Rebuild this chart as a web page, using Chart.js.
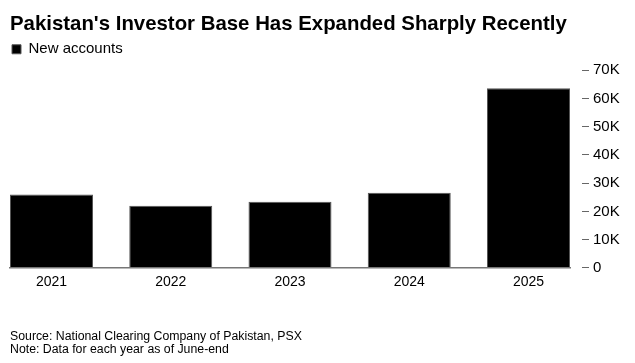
<!DOCTYPE html>
<html>
<head>
<meta charset="utf-8">
<script src="https://cdn.jsdelivr.net/npm/chart.js@4/dist/chart.umd.min.js"></script>
<style>
  html, body { margin: 0; padding: 0; background: #fff; }
  #wrap { width: 635px; height: 363px; }
</style>
</head>
<body>
<div id="wrap"><canvas id="c" width="635" height="363"></canvas></div>
<script>
const categories = ['2021', '2022', '2023', '2024', '2025'];
const newAccounts = [26000, 22000, 23400, 26600, 63600];
const yTickValues = [0, 10000, 20000, 30000, 40000, 50000, 60000, 70000];
const yTickLabels = ['0', '10K', '20K', '30K', '40K', '50K', '60K', '70K'];
const titleText = "Pakistan's Investor Base Has Expanded Sharply Recently";
const seriesName = 'New accounts';
const footnotes = ['Source: National Clearing Company of Pakistan, PSX', 'Note: Data for each year as of June-end'];

const FONT = '"Liberation Sans", Arial, Helvetica, sans-serif';
Chart.defaults.font.family = FONT;
Chart.defaults.color = '#000';

new Chart(document.getElementById('c'), {
  type: 'bar',
  data: {
    datasets: [{
      label: seriesName,
      data: newAccounts.map((v, i) => ({ x: i, y: v })),
      backgroundColor: '#000',
      borderColor: '#555',
      borderWidth: 1,
      categoryPercentage: 1,
      barPercentage: 0.696
    }]
  },
  options: {
    responsive: false,
    animation: false,
    devicePixelRatio: 1,
    layout: { padding: { left: 10, right: 0, top: 0, bottom: 0 } },
    plugins: {
      title: {
        display: true,
        text: titleText,
        align: 'start',
        color: '#000',
        font: { size: 20.4, weight: 'bold', family: FONT },
        padding: { top: 12, bottom: 3.3 }
      },
      legend: {
        display: true,
        position: 'top',
        align: 'start',
        labels: {
          boxWidth: 9,
          boxHeight: 9,
          padding: 2,
          color: '#000',
          font: { size: 15, family: FONT }
        }
      },
      subtitle: {
        display: true,
        position: 'bottom',
        align: 'start',
        text: footnotes,
        color: '#000',
        font: { size: 12.3, family: FONT, lineHeight: 1.08 },
        padding: { top: 33.6, bottom: 6.5 }
      },
      tooltip: { enabled: false }
    },
    scales: {
      x: {
        type: 'linear',
        position: 'bottom',
        offset: false,
        min: -0.348,
        max: 4.348,
        afterBuildTicks: (s) => { s.ticks = categories.map((c, i) => ({ value: i })); },
        ticks: {
          autoSkip: false,
          maxRotation: 0,
          padding: 5.8,
          color: '#000',
          font: { size: 14, family: FONT },
          callback: (v) => categories[v]
        },
        grid: { display: false, drawTicks: false },
        border: { display: true, color: '#777', width: 1.5, z: 1 }
      },
      y: {
        type: 'linear',
        position: 'right',
        min: 0,
        max: 71242,
        afterBuildTicks: (s) => { s.ticks = yTickValues.map(v => ({ value: v })); },
        afterFit: (s) => { s.width = 65; },
        ticks: {
          padding: 4,
          color: '#000',
          font: { size: 15, family: FONT },
          callback: (v) => yTickLabels[yTickValues.indexOf(v)]
        },
        grid: {
          display: true,
          drawOnChartArea: false,
          drawTicks: true,
          tickLength: 19,
          tickColor: '#666',
          tickWidth: 1,
          tickBorderDash: [0, 12, 7, 100]
        },
        border: { display: false }
      }
    }
  }
});
</script>
</body>
</html>
